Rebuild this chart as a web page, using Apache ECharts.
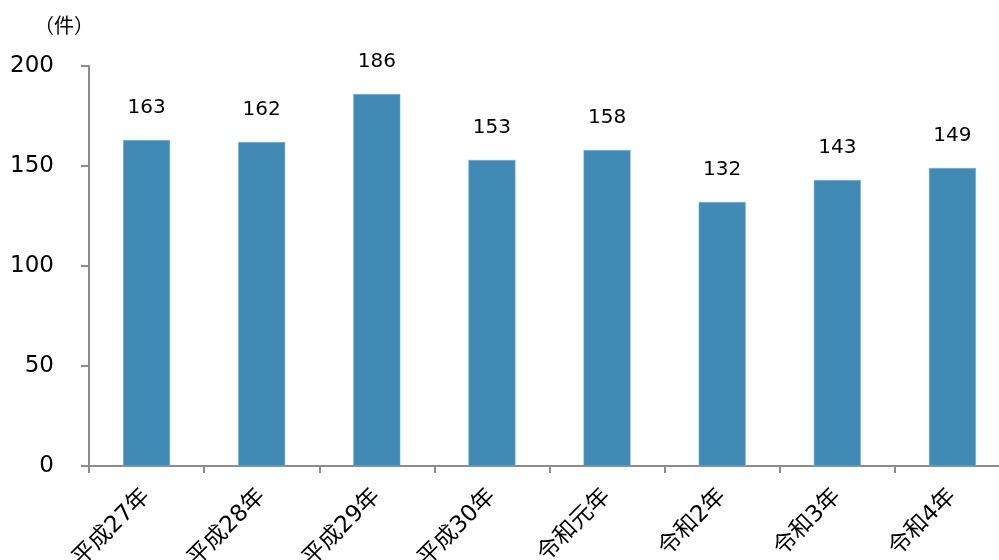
<!DOCTYPE html>
<html>
<head>
<meta charset="utf-8">
<script src="https://cdn.jsdelivr.net/npm/echarts@6/dist/echarts.min.js"></script>
<style>
  html, body { margin: 0; padding: 0; background: #fff; }
  #chart { width: 999px; height: 560px; }
</style>
</head>
<body>
<div id="chart"></div>
<script>
const CATEGORIES = ['平成27年', '平成28年', '平成29年', '平成30年', '令和元年', '令和2年', '令和3年', '令和4年'];
const CASES = [163, 162, 186, 153, 158, 132, 143, 149];
const Y_MIN = 0;
const Y_MAX = 200;
const Y_STEP = 50;

const FONT = '"DejaVu Sans", "Noto Sans CJK JP", sans-serif';
const AXIS_COLOR = '#8c8c8c';

const chart = echarts.init(document.getElementById('chart'));
chart.setOption({
    animation: false,
    textStyle: { fontFamily: FONT },
    // 単位
    graphic: [{
        type: 'text',
        left: 34,
        top: 18,
        style: { text: '（件）', fontSize: 20, fill: '#000', fontFamily: FONT }
    }],
    // 右端はキャンバスの外まで続く
    grid: { left: 89, width: 921, top: 66, height: 400, containLabel: false, outerBoundsMode: 'none' },
    xAxis: {
        type: 'category',
        data: CATEGORIES,
        axisLine: { lineStyle: { color: AXIS_COLOR, width: 2 } },
        axisTick: { show: true, length: 7, alignWithLabel: false, lineStyle: { color: AXIS_COLOR, width: 2 } },
        axisLabel: {
            interval: 0,
            rotate: 45,
            margin: 27,
            fontSize: 23,
            color: '#000',
            fontFamily: FONT
        }
    },
    yAxis: {
        type: 'value',
        min: Y_MIN,
        max: Y_MAX,
        interval: Y_STEP,
        splitLine: { show: false },
        axisLine: { show: true, lineStyle: { color: AXIS_COLOR, width: 2 } },
        axisTick: { show: true, length: 8, lineStyle: { color: AXIS_COLOR, width: 2 } },
        axisLabel: { margin: 35, fontSize: 23, color: '#000', fontFamily: FONT }
    },
    series: [{
        type: 'bar',
        data: CASES,
        barWidth: 47,
        itemStyle: { color: '#418ab5', borderColor: '#7fb2d2', borderWidth: 0.5 },
        label: {
            show: true,
            position: 'top',
            distance: 22,
            fontSize: 20,
            color: '#000',
            fontFamily: FONT
        }
    }]
});
</script>
</body>
</html>
